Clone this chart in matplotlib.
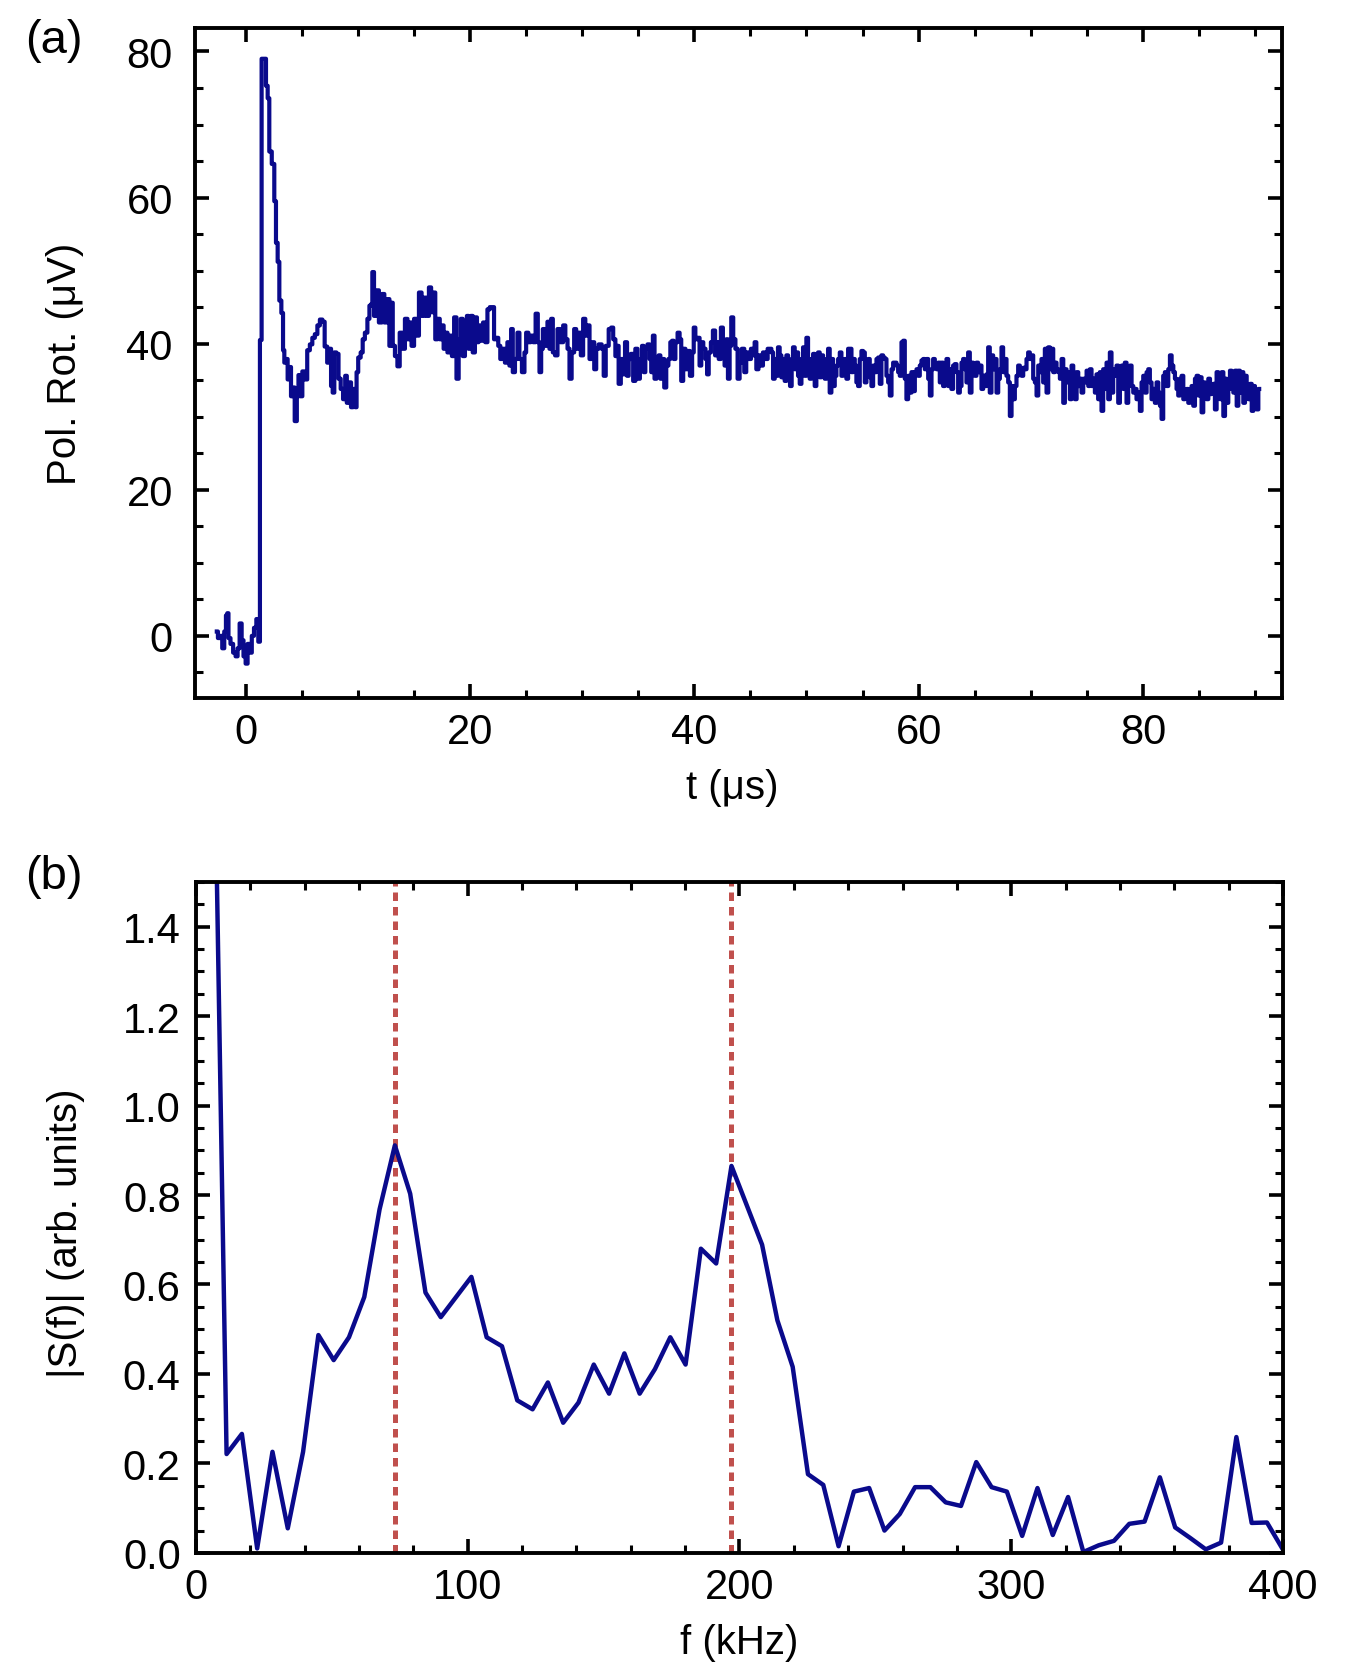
import matplotlib
matplotlib.use("Agg")
import matplotlib.pyplot as plt
from matplotlib.ticker import MultipleLocator

plt.rcParams['font.family'] = ['Liberation Sans', 'DejaVu Sans']

# (a) polarization rotation trace in pieces
t_a = [-2.56, -2.36, -2.18, -1.97, -1.82, -1.67, -1.58, -1.46, -1.22, -0.99,
       -0.78, -0.63, -0.42, -0.27, -0.09, 0.11, 0.26, 0.47, 0.65, 0.86,
       1.07, 1.21, 1.36, 1.51, 1.75, 1.90, 2.05, 2.19, 2.49, 2.64,
       2.79, 2.94, 3.09, 3.30, 3.39, 3.53, 3.68, 3.83, 3.98, 4.13,
       4.28, 4.49, 4.66, 4.78, 4.96, 5.17, 5.38, 5.62, 5.85, 6.06,
       6.30, 6.51, 6.75, 6.95, 7.16, 7.40]
v_a = [0.6, -0.3, 0.0, -1.7, 0.6, 2.8, 3.1, -0.3, -1.1, -2.3,
       -2.8, -1.7, 1.7, -0.6, -2.8, -3.8, -1.1, -2.3, 0.0, 1.1,
       2.3, -0.8, 40.5, 79.0, 79.0, 75.3, 73.6, 66.3, 64.6, 59.5,
       53.8, 51.2, 45.9, 44.2, 39.1, 37.4, 37.9, 35.1, 36.8, 32.8,
       34.0, 29.4, 32.8, 35.7, 32.8, 36.2, 35.1, 39.1, 39.9, 40.8,
       41.3, 42.5, 43.3, 43.0, 39.6, 37.4]

t_b = [7.55, 7.70, 7.84, 7.99, 8.20, 8.38, 8.59, 8.80, 8.97, 9.09,
       9.33, 9.48, 9.69, 9.87, 9.93, 10.16, 10.37, 10.52, 10.76, 10.97,
       11.12, 11.26, 11.35, 11.56, 11.77, 12.01, 12.30, 12.45, 12.75, 12.90,
       13.05, 13.20, 13.44, 13.64, 13.85, 14.09, 14.33, 14.54, 14.68, 14.92,
       15.13, 15.34, 15.58, 15.81, 16.02, 16.23, 16.47, 16.62, 16.83, 17.00,
       17.21, 17.42, 17.60, 17.72, 17.90, 18.10, 18.31, 18.49, 18.70, 18.91,
       19.09]
v_b = [39.3, 34.2, 33.3, 38.8, 38.6, 35.2, 33.8, 32.4, 35.6, 31.9,
       34.7, 31.3, 33.8, 31.3, 36.1, 38.1, 38.8, 40.6, 41.5, 43.4,
       45.2, 45.4, 49.8, 43.8, 47.3, 42.9, 46.8, 42.9, 46.1, 39.7,
       45.6, 39.7, 38.3, 36.9, 41.5, 39.3, 43.4, 40.6, 42.9, 39.7,
       43.4, 41.1, 47.0, 43.8, 46.3, 43.8, 47.7, 44.3, 47.0, 40.6,
       43.4, 40.6, 42.5, 39.3, 41.5, 38.8, 41.1, 38.3, 43.6, 35.2,
       40.6]

t_c = [19.29, 19.44, 19.68, 19.79, 19.97, 20.18, 20.33, 20.57, 20.69, 20.86,
       21.07, 21.28, 21.46, 21.67, 21.88, 22.11, 22.20, 22.41, 22.65, 22.77,
       23.01, 23.24, 23.45, 23.60, 23.75, 23.90, 24.14, 24.34, 24.49, 24.79,
       24.94, 25.09, 25.33, 25.53, 25.74, 25.98, 26.13, 26.28, 26.43, 26.58,
       26.81, 27.02, 27.17, 27.32, 27.47, 27.71, 27.91, 28.21, 28.42, 28.60,
       28.81, 28.95, 29.19, 29.40, 29.55, 29.79, 29.99, 30.20, 30.38, 30.59,
       30.74, 30.98, 31.19, 31.33, 31.63, 31.87, 31.99, 32.23, 32.52]
v_c = [43.4, 38.3, 39.7, 43.8, 39.3, 43.8, 38.8, 43.6, 40.2, 42.5,
       40.4, 42.9, 40.2, 44.7, 45.0, 45.0, 40.6, 40.8, 39.7, 37.9,
       39.3, 37.4, 40.2, 37.0, 42.0, 36.1, 37.9, 41.5, 37.9, 36.1,
       38.8, 41.5, 40.2, 41.1, 40.2, 44.1, 40.2, 36.1, 39.3, 42.0,
       39.7, 43.0, 39.3, 43.4, 38.8, 38.4, 42.0, 40.2, 42.5, 40.6,
       39.3, 35.2, 38.8, 42.0, 39.3, 41.5, 38.4, 43.4, 41.1, 42.5,
       37.9, 40.2, 36.5, 39.3, 39.9, 39.3, 35.6, 39.7, 42.0]

t_d = [32.67, 32.88, 33.06, 33.17, 33.35, 33.56, 33.71, 33.95, 34.07, 34.24,
       34.45, 34.66, 34.84, 35.05, 35.26, 35.43, 35.55, 35.73, 35.94, 36.09,
       36.24, 36.39, 36.53, 36.74, 36.92, 37.04, 37.22, 37.43, 37.58, 37.81,
       37.93, 38.11, 38.23, 38.41, 38.62, 38.77, 38.91, 39.12, 39.30, 39.51,
       39.72, 39.90, 40.01, 40.19, 40.40, 40.55, 40.70, 40.91, 41.09, 41.20,
       41.38, 41.59, 41.74, 41.98, 42.10, 42.27, 42.48, 42.63, 42.78, 42.93,
       43.08, 43.23, 43.37, 43.58, 43.76, 43.97, 44.12, 44.36, 44.56, 44.71,
       44.95, 45.16, 45.31, 45.46, 45.61, 45.84, 46.05, 46.20, 46.44, 46.65]
v_d = [42.2, 40.6, 38.3, 39.7, 34.5, 37.9, 35.8, 40.2, 35.6, 37.9,
       38.6, 34.9, 39.3, 35.2, 37.9, 39.7, 36.1, 39.3, 39.9, 37.9,
       36.1, 41.1, 35.2, 36.1, 38.4, 35.2, 37.9, 34.0, 37.0, 37.9,
       40.2, 40.4, 37.9, 40.2, 41.5, 40.6, 34.9, 39.3, 36.5, 39.0,
       35.6, 38.8, 42.2, 40.6, 40.8, 37.0, 40.2, 39.3, 37.9, 35.8,
       38.8, 40.2, 41.8, 38.4, 40.2, 37.9, 42.2, 39.7, 37.0, 40.6,
       35.2, 39.7, 43.6, 40.6, 39.3, 35.2, 37.4, 39.3, 36.1, 38.8,
       37.9, 39.3, 38.4, 40.2, 36.5, 38.4, 37.0, 38.8, 37.9, 39.3]

t_e = [46.80, 46.95, 47.10, 47.25, 47.39, 47.54, 47.69, 47.84, 47.99, 48.14,
       48.29, 48.44, 48.64, 48.73, 48.88, 49.03, 49.18, 49.33, 49.48, 49.63,
       49.77, 49.92, 50.07, 50.22, 50.37, 50.52, 50.67, 50.81, 50.96, 51.11,
       51.26, 51.41, 51.56, 51.71, 51.86, 52.00, 52.15, 52.30, 52.45, 52.60,
       52.75, 52.90, 53.05, 53.19, 53.34, 53.49, 53.64, 53.79, 53.94, 54.09,
       54.24, 54.38, 54.53, 54.68, 54.83, 54.98, 55.13, 55.28, 55.42, 55.57,
       55.72, 55.87, 56.02, 56.17, 56.32, 56.47, 56.61, 56.76, 56.91, 57.06,
       57.21, 57.36, 57.51, 57.66, 57.80, 57.95, 58.10, 58.25, 58.40, 58.55,
       58.70, 58.84, 58.99, 59.14, 59.29, 59.44, 59.59, 59.74, 59.89, 60.03,
       60.18, 60.33, 60.48, 60.63, 60.78, 60.93, 61.08, 61.22, 61.37, 61.52,
       61.67, 61.82]
v_e = [39.3, 38.8, 35.2, 37.9, 35.6, 39.5, 38.4, 35.4, 37.9, 34.9,
       38.4, 37.0, 34.2, 37.9, 39.5, 36.5, 38.8, 35.6, 34.5, 37.9,
       39.5, 35.6, 40.8, 37.9, 35.2, 37.9, 38.6, 34.2, 37.9, 38.8,
       35.4, 38.4, 37.0, 35.2, 37.9, 39.3, 33.3, 37.9, 34.2, 35.6,
       37.0, 37.9, 38.8, 35.6, 36.5, 37.9, 35.2, 39.3, 39.3, 36.1,
       37.9, 37.0, 34.7, 34.2, 37.9, 39.0, 38.8, 34.7, 37.0, 37.9,
       35.4, 34.2, 37.0, 36.1, 37.9, 38.1, 34.5, 38.4, 38.1, 37.9,
       35.6, 34.7, 32.9, 36.5, 37.4, 37.4, 37.0, 36.1, 35.6, 40.2,
       40.4, 35.2, 32.4, 35.6, 33.3, 36.1, 33.5, 36.1, 36.5, 35.6,
       37.0, 37.7, 37.9, 36.5, 37.9, 35.2, 32.9, 36.5, 37.9, 37.0,
       36.5, 37.4]

t_f = [61.96, 62.11, 62.26, 62.41, 62.56, 62.71, 62.85, 63.00, 63.15, 63.30,
       63.45, 63.60, 63.75, 63.90, 64.04, 64.19, 64.34, 64.49, 64.64, 64.79,
       64.94, 65.08, 65.23, 65.38, 65.53, 65.68, 65.83, 65.98, 66.13, 66.27,
       66.42, 66.57, 66.72, 66.87, 67.02, 67.17, 67.32, 67.46, 67.61, 67.76,
       67.91, 68.06, 68.21, 68.36, 68.51, 68.65, 68.80, 68.95, 69.10, 69.25,
       69.40, 69.55, 69.69, 69.84, 69.99, 70.14, 70.29, 70.44, 70.59, 70.74,
       70.88, 71.03, 71.18, 71.33, 71.48, 71.63, 71.78, 71.93, 72.07, 72.22,
       72.37, 72.52, 72.67, 72.82, 72.97, 73.11, 73.26, 73.41, 73.56, 73.71,
       73.86, 74.01, 74.16, 74.30, 74.45, 74.60, 74.75, 74.90, 75.05, 75.20]
v_f = [34.7, 37.4, 34.2, 36.1, 37.9, 34.2, 36.5, 33.8, 37.0, 37.2,
       36.1, 33.3, 34.2, 37.4, 37.9, 36.5, 34.7, 38.8, 33.3, 37.4,
       36.5, 35.6, 37.4, 36.1, 37.0, 33.8, 35.6, 34.2, 35.8, 39.5,
       33.3, 38.4, 36.5, 37.9, 33.3, 35.2, 36.5, 39.5, 36.1, 37.9,
       35.6, 34.7, 30.1, 34.2, 32.4, 34.2, 35.6, 37.0, 36.5, 35.6,
       36.7, 36.5, 37.9, 38.8, 37.9, 38.4, 35.2, 34.7, 32.9, 37.0,
       36.1, 37.9, 34.7, 39.3, 33.3, 39.5, 36.5, 39.3, 36.1, 37.4,
       36.5, 36.1, 35.2, 37.9, 31.9, 36.5, 34.7, 36.1, 32.4, 37.0,
       35.2, 32.4, 36.1, 34.2, 35.2, 33.3, 35.2, 34.7, 36.3, 34.2]

t_g = [75.34, 75.49, 75.64, 75.79, 75.93, 76.08, 76.23, 76.38, 76.53, 76.68,
       76.83, 76.98, 77.12, 77.27, 77.42, 77.57, 77.72, 77.87, 78.02, 78.17,
       78.31, 78.46, 78.61, 78.76, 78.91, 79.06, 79.21, 79.35, 79.50, 79.65,
       79.80, 79.95, 80.10, 80.25, 80.40, 80.54, 80.69, 80.84, 80.99, 81.14,
       81.29, 81.44, 81.59, 81.73, 81.88, 82.03, 82.18, 82.33, 82.48, 82.63,
       82.78, 82.92, 83.07, 83.22, 83.37, 83.52, 83.67, 83.82, 83.97, 84.11,
       84.26, 84.41, 84.56, 84.71, 84.86, 85.01, 85.15, 85.30, 85.45, 85.60,
       85.75, 85.90, 86.05, 86.20, 86.34, 86.49, 86.64, 86.79, 86.94, 87.09,
       87.24, 87.39, 87.53, 87.68, 87.83, 87.98, 88.13, 88.28, 88.43, 88.57,
       88.72, 88.87, 89.02, 89.17, 89.32, 89.47, 89.62, 89.77, 89.91, 90.06,
       90.21, 90.36]
v_g = [36.5, 34.2, 35.2, 33.3, 35.8, 32.4, 36.1, 30.8, 36.5, 33.8,
       37.4, 32.4, 38.8, 33.3, 36.5, 35.6, 37.0, 31.9, 35.2, 37.0,
       33.8, 37.4, 31.9, 36.1, 37.0, 34.2, 33.3, 33.8, 32.4, 33.3,
       30.8, 34.7, 35.6, 33.3, 36.1, 36.5, 34.7, 32.4, 33.8, 31.9,
       34.7, 33.3, 31.5, 29.7, 35.6, 36.1, 34.2, 36.5, 38.4, 37.0,
       36.1, 35.2, 33.8, 32.9, 35.2, 35.6, 32.4, 33.3, 33.8, 31.9,
       32.4, 34.2, 31.5, 35.2, 35.6, 32.9, 35.4, 30.6, 34.7, 34.2,
       32.4, 35.2, 33.1, 33.8, 34.5, 31.0, 36.1, 35.6, 32.4, 36.1,
       30.1, 35.2, 31.9, 33.8, 36.3, 34.2, 33.3, 36.3, 31.5, 36.3,
       33.3, 36.1, 31.9, 35.6, 33.8, 32.4, 34.5, 30.8, 34.2, 33.3,
       31.0, 33.8]

# (b) spectrum magnitude
freq_khz = [5.63, 11.26, 16.89, 22.52, 28.15, 33.78, 39.41, 45.04, 50.67, 56.30,
            61.93, 67.56, 73.19, 78.82, 84.45, 90.08, 95.71, 101.34, 106.97, 112.60,
            118.23, 123.86, 129.49, 135.12, 140.75, 146.38, 152.01, 157.64, 163.27, 168.90,
            174.53, 180.16, 185.79, 191.42, 197.05, 202.68, 208.31, 213.94, 219.57, 225.20,
            230.83, 236.46, 242.09, 247.72, 253.35, 258.98, 264.61, 270.24, 275.87, 281.50,
            287.13, 292.76, 298.39, 304.02, 309.65, 315.28, 320.91, 326.54, 332.17, 337.80,
            343.43, 349.06, 354.69, 360.32, 365.95, 371.58, 377.21, 382.84, 388.47, 394.10,
            399.73]
spec = [2.25, 0.221, 0.266, 0.010, 0.226, 0.055, 0.226, 0.487, 0.431, 0.482,
        0.572, 0.768, 0.911, 0.803, 0.582, 0.527, 0.572, 0.617, 0.482, 0.462,
        0.341, 0.321, 0.381, 0.291, 0.336, 0.421, 0.356, 0.446, 0.356, 0.411,
        0.482, 0.421, 0.680, 0.647, 0.865, 0.777, 0.689, 0.520, 0.416, 0.176,
        0.152, 0.015, 0.137, 0.145, 0.050, 0.087, 0.147, 0.147, 0.113, 0.105,
        0.203, 0.147, 0.137, 0.038, 0.145, 0.040, 0.125, 0.002, 0.017, 0.027,
        0.065, 0.070, 0.169, 0.057, 0.033, 0.008, 0.023, 0.259, 0.067, 0.068,
        0.010]
peak_freqs = [73.19, 197.05]

t_us = t_a + t_b + t_c + t_d + t_e + t_f + t_g
rot_uv = v_a + v_b + v_c + v_d + v_e + v_f + v_g
assert len(t_us) == len(rot_uv)
assert len(freq_khz) == len(spec)

BLUE = '#0a0a8c'
RED = '#c0504d'
TICK_FS = 30
LABEL_FS = 29


def style_axes(ax):
    for s in ax.spines.values():
        s.set_linewidth(2.8)
    ax.tick_params(which='both', direction='in', top=True, right=True,
                   labelsize=TICK_FS)
    ax.tick_params(which='major', length=10, width=2.6)
    ax.tick_params(which='minor', length=6, width=2.2)


fig = plt.figure(figsize=(13.46, 16.81), dpi=100)

ax1 = fig.add_axes([0.1449, 0.5842, 0.8076, 0.3985])
ax1.plot(t_us, rot_uv, color=BLUE, lw=3.0, drawstyle='steps-mid')
ax1.set_xlim(-4.5, 92.4)
ax1.set_ylim(-8.5, 83.2)
ax1.xaxis.set_major_locator(MultipleLocator(20))
ax1.xaxis.set_minor_locator(MultipleLocator(5))
ax1.yaxis.set_major_locator(MultipleLocator(20))
ax1.yaxis.set_minor_locator(MultipleLocator(5))
style_axes(ax1)
ax1.tick_params(axis='y', which='major', pad=16)
ax1.tick_params(axis='x', which='major', pad=10)
ax1.set_xlabel('t (\u03bcs)', fontsize=LABEL_FS)
ax1.set_ylabel('Pol. Rot. (\u03bcV)', fontsize=LABEL_FS)
ax1.xaxis.set_label_coords(0.494, -0.105)
ax1.yaxis.set_label_coords(-0.102, 0.5)

ax2 = fig.add_axes([0.1456, 0.0756, 0.8076, 0.3992])
for f in peak_freqs:
    ax2.axvline(f, color=RED, lw=3.6, ls=(0, (1.7, 1.2)))
ax2.plot(freq_khz, spec, color=BLUE, lw=3.2)
ax2.set_xlim(0, 400)
ax2.set_ylim(0, 1.5)
ax2.xaxis.set_major_locator(MultipleLocator(100))
ax2.xaxis.set_minor_locator(MultipleLocator(20))
ax2.yaxis.set_major_locator(MultipleLocator(0.2))
ax2.yaxis.set_minor_locator(MultipleLocator(0.05))
ax2.yaxis.set_major_formatter(plt.FuncFormatter(lambda v, p: f'{v:.1f}'))
style_axes(ax2)
ax2.tick_params(axis='y', which='major', pad=11)
ax2.tick_params(axis='x', which='major', pad=10)
ax2.set_xlabel('f (kHz)', fontsize=LABEL_FS)
ax2.set_ylabel('|S(f)| (arb. units)', fontsize=LABEL_FS)
ax2.xaxis.set_label_coords(0.5, -0.105)
ax2.yaxis.set_label_coords(-0.102, 0.478)

fig.text(0.040, 0.9756, '(a)', fontsize=34, ha='center', va='center')
fig.text(0.040, 0.478, '(b)', fontsize=34, ha='center', va='center')

fig.savefig('out.png', dpi=100)
